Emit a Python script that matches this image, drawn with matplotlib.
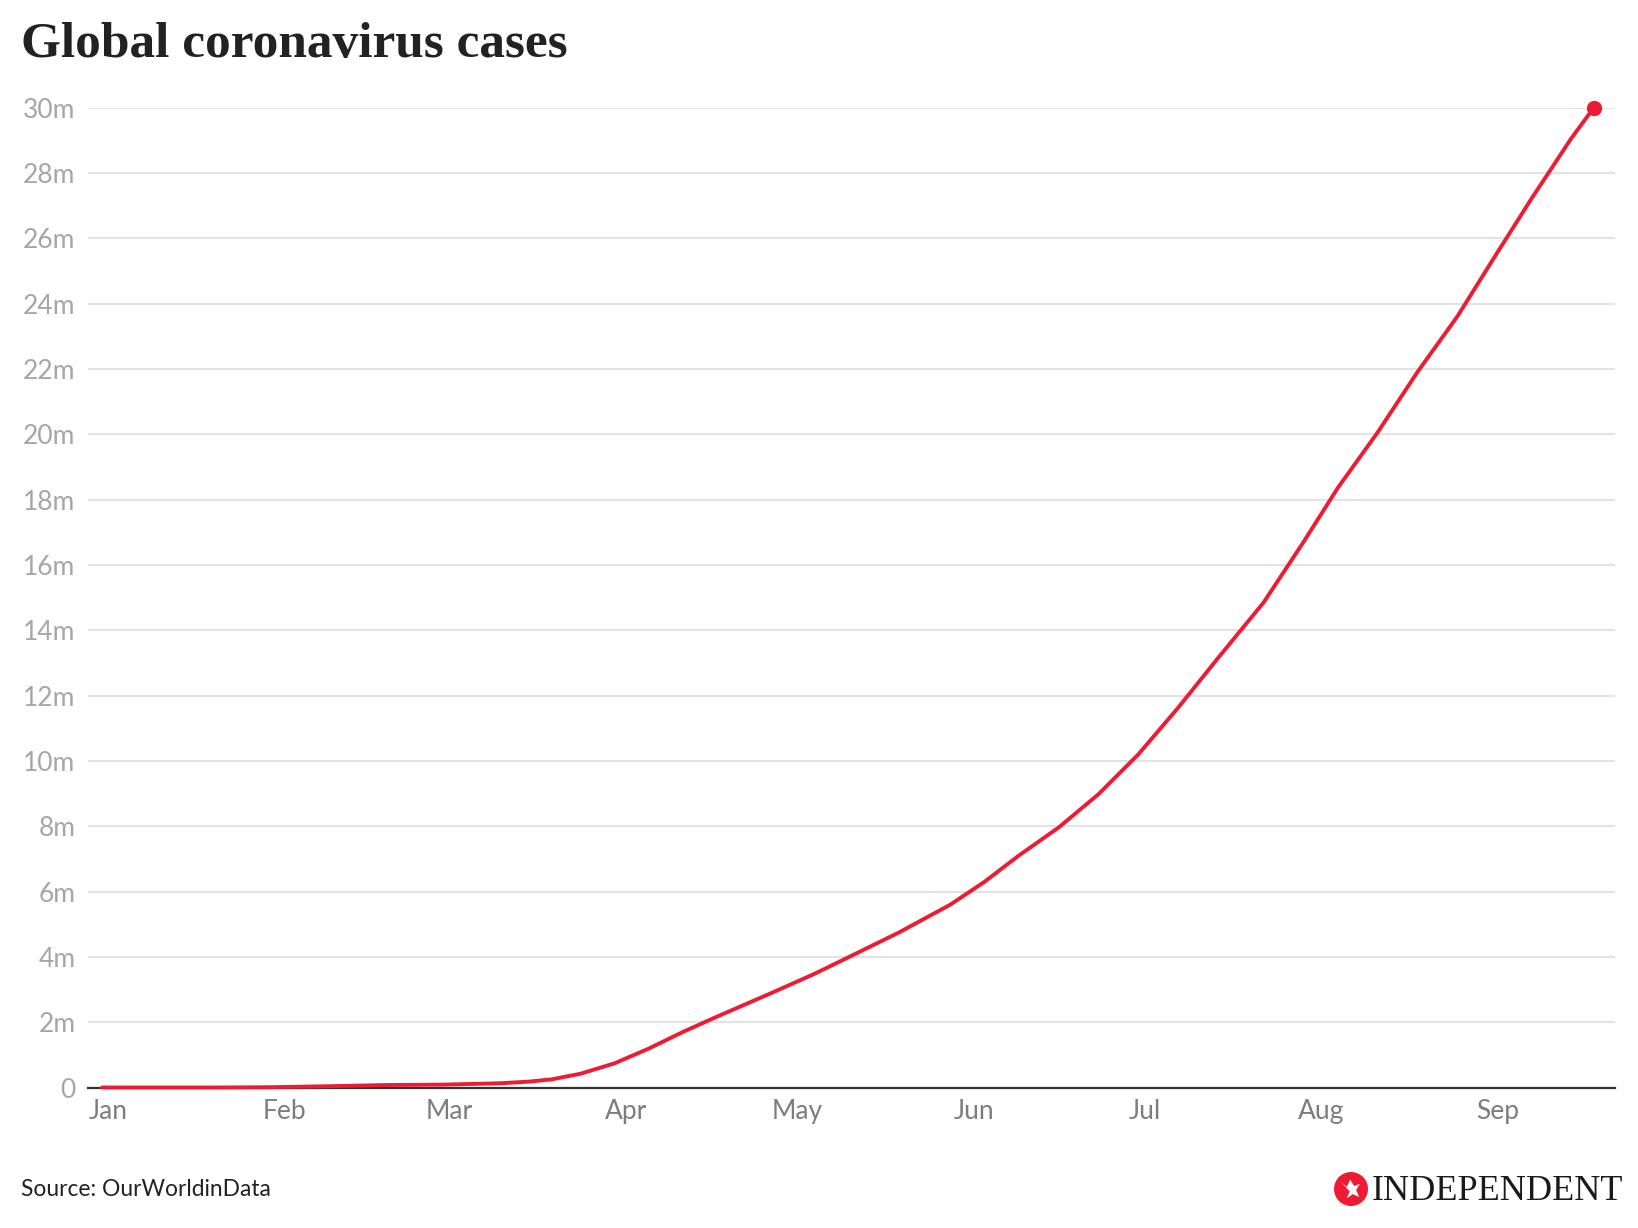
import matplotlib
matplotlib.use("Agg")
import matplotlib.pyplot as plt
import matplotlib.dates as mdates
import matplotlib.transforms as mtransforms
from matplotlib.patches import Circle, Polygon
import numpy as np

# ---- data (cumulative global confirmed cases, millions) ----
dates = ["2020-01-01", "2020-01-22", "2020-01-31", "2020-02-10", "2020-02-20",
         "2020-03-01", "2020-03-11", "2020-03-16", "2020-03-20", "2020-03-25",
         "2020-03-31", "2020-04-06", "2020-04-12", "2020-04-18", "2020-04-27",
         "2020-05-05", "2020-05-11", "2020-05-20", "2020-05-29", "2020-06-04",
         "2020-06-10", "2020-06-17", "2020-06-24", "2020-07-01", "2020-07-08",
         "2020-07-15", "2020-07-23", "2020-07-30", "2020-08-05", "2020-08-12",
         "2020-08-19", "2020-08-26", "2020-09-02", "2020-09-08", "2020-09-15",
         "2020-09-19"]
cases_m = [0.0, 0.0006, 0.01, 0.04, 0.076,
           0.088, 0.13, 0.18, 0.25, 0.42,
           0.74, 1.19, 1.70, 2.17, 2.85,
           3.47, 3.98, 4.75, 5.60, 6.30,
           7.10, 7.96, 8.98, 10.20, 11.63,
           13.15, 14.85, 16.70, 18.35, 20.05,
           21.90, 23.60, 25.55, 27.20, 29.05,
           30.00]

y_ticks = [0, 2, 4, 6, 8, 10, 12, 14, 16, 18, 20, 22, 24, 26, 28, 30]
y_tick_labels = ["0", "2m", "4m", "6m", "8m", "10m", "12m", "14m", "16m",
                 "18m", "20m", "22m", "24m", "26m", "28m", "30m"]
month_starts = ["2020-01-01", "2020-02-01", "2020-03-01", "2020-04-01",
                "2020-05-01", "2020-06-01", "2020-07-01", "2020-08-01",
                "2020-09-01"]
month_labels = ["Jan", "Feb", "Mar", "Apr", "May", "Jun", "Jul", "Aug", "Sep"]

RED = "#ED1B34"
W, H = 1638, 1228
fig = plt.figure(figsize=(W / 100, H / 100), dpi=100)
fig.patch.set_facecolor("white")

ax_left, ax_right = 88 / W, 1615 / W
ax_bottom, ax_top = 1 - 1087.5 / H, 1 - 107.5 / H
ax = fig.add_axes([ax_left, ax_bottom, ax_right - ax_left, ax_top - ax_bottom])

x = mdates.date2num(np.array(dates, dtype="datetime64[D]"))
ax.plot(x, cases_m, color=RED, lw=2.8, solid_capstyle="round",
        solid_joinstyle="round", zorder=4, clip_on=False)
ax.plot([x[-1]], [cases_m[-1]], "o", color=RED, ms=10, zorder=5, clip_on=False)

x0 = mdates.date2num(np.datetime64("2020-01-01"))
ax.set_xlim(x0 - 2.46, x0 + 265.7)
ax.set_ylim(0, 30)

ax.set_yticks(y_ticks)
ax.set_yticklabels(y_tick_labels)
ax.yaxis.grid(True, color="#e3e3e3", lw=1.5)
ax.set_axisbelow(True)

mx = mdates.date2num(np.array(month_starts, dtype="datetime64[D]"))
ax.set_xticks(mx)
ax.set_xticklabels(month_labels)

for s in ["top", "right", "left"]:
    ax.spines[s].set_visible(False)
ax.spines["bottom"].set_color("#333333")
ax.spines["bottom"].set_linewidth(1.6)
ax.spines["bottom"].set_zorder(3)

ax.tick_params(axis="y", length=0, pad=9, labelsize=19, labelcolor="#a6a6a6")
ax.tick_params(axis="x", length=0, pad=8, labelsize=19, labelcolor="#7d7d7d")
for lab in ax.get_yticklabels():
    lab.set_fontfamily("Lato")
offset = mtransforms.ScaledTranslation(6 / 100, 0, fig.dpi_scale_trans)
for lab in ax.get_xticklabels():
    lab.set_fontfamily("Lato")
    lab.set_transform(lab.get_transform() + offset)

# title
fig.text(21 / W, 1 - 57 / H, "Global coronavirus cases", fontfamily="Liberation Serif",
         fontweight="bold", fontsize=37, color="#222222", ha="left", va="baseline")

# source
fig.text(21 / W, 1 - 1190 / H, "Source: OurWorldinData", fontfamily="Lato",
         fontsize=16.4, color="#222222", ha="left", va="center")

# logo
cx, cy, r = 1351 / 100, (H - 1189) / 100, 0.17
fig.add_artist(Circle((cx, cy), r, transform=fig.dpi_scale_trans,
                      facecolor=RED, edgecolor="none"))
bird = [(-0.62, 0.45), (-0.25, 0.12), (-0.05, 0.55), (0.18, 0.18), (0.52, 0.3),
        (0.3, -0.05), (0.48, -0.48), (0.1, -0.3), (-0.25, -0.55), (-0.08, -0.15)]
fig.add_artist(Polygon([(cx + px * r, cy + py * r) for px, py in bird], closed=True,
                       transform=fig.dpi_scale_trans, facecolor="white", edgecolor="none"))
fig.text(1372 / W, 1 - 1200 / H, "INDEPENDENT", fontfamily="Liberation Serif",
         fontsize=26, color="#1a1a1a", ha="left", va="baseline")

fig.savefig("out.png", dpi=100, facecolor="white")
